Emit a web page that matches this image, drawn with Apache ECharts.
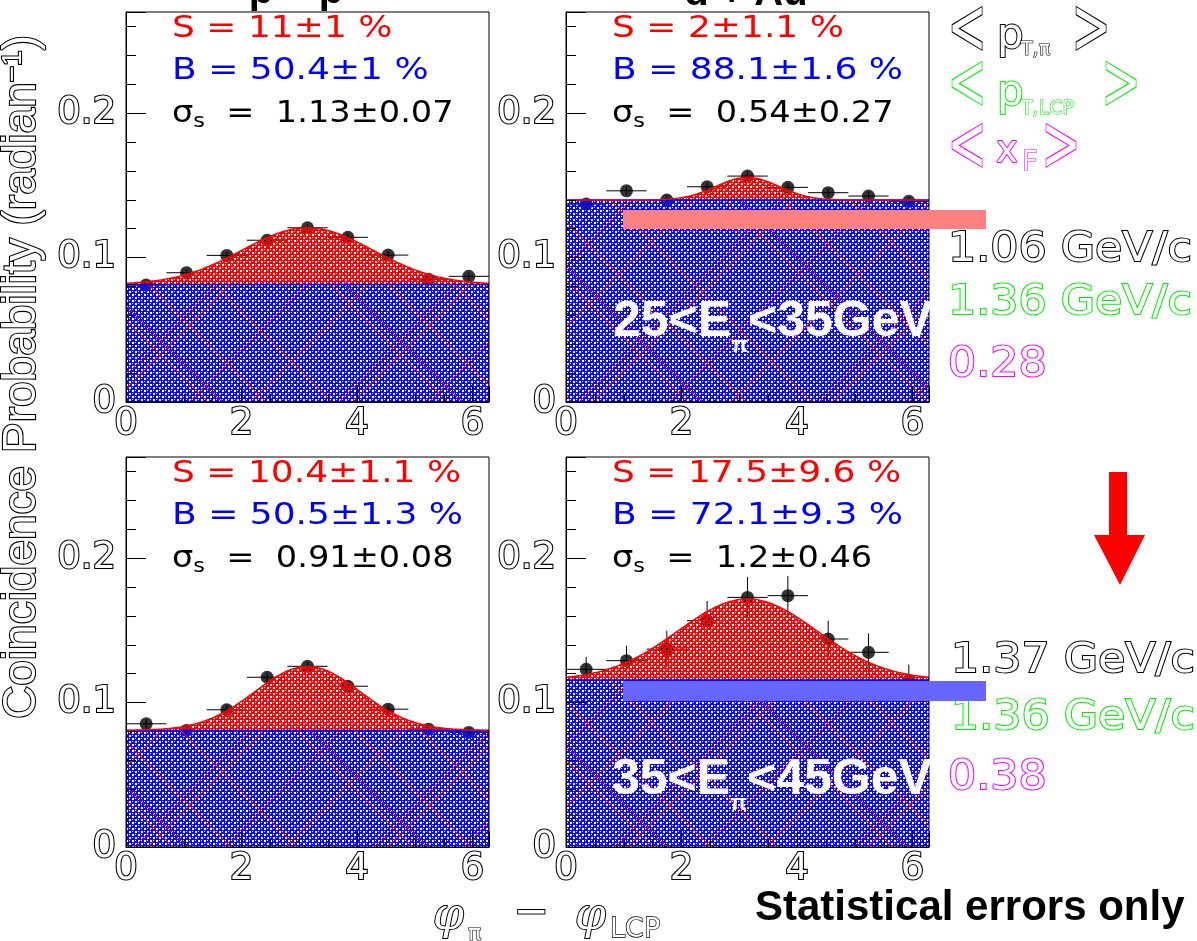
<!DOCTYPE html>
<html>
<head>
<meta charset="utf-8">
<script src="https://cdn.jsdelivr.net/npm/echarts@6/dist/echarts.min.js"></script>
<style>
html, body { margin: 0; padding: 0; background: #fff; }
#chart { width: 1197px; height: 941px; }
</style>
</head>
<body>
<div id="chart"></div>
<script>
// ---- data -----------------------------------------------------------------
const TWO_PI = 2 * Math.PI;
const binCenters = [0.349, 1.047, 1.745, 2.443, 3.142, 3.840, 4.538, 5.236, 5.934];
const binHalfWidth = 0.349;

// coincidence probability per bin (radian^-1) and its statistical error
const ppLowE      = [0.0810, 0.0895, 0.1015, 0.1120, 0.1206, 0.1140, 0.1017, 0.0850, 0.0870];
const ppLowEErr   = [0.0025, 0.0025, 0.0025, 0.0025, 0.0025, 0.0025, 0.0025, 0.0025, 0.0025];
const dAuLowE     = [0.1370, 0.1462, 0.1398, 0.1490, 0.1564, 0.1486, 0.1449, 0.1426, 0.1389];
const dAuLowEErr  = [0.0030, 0.0030, 0.0030, 0.0030, 0.0030, 0.0030, 0.0030, 0.0030, 0.0030];
const ppHighE     = [0.0853, 0.0807, 0.0950, 0.1175, 0.1251, 0.1113, 0.0954, 0.0816, 0.0793];
const ppHighEErr  = [0.0030, 0.0030, 0.0030, 0.0030, 0.0030, 0.0030, 0.0030, 0.0030, 0.0030];
const dAuHighE    = [0.1230, 0.1290, 0.1370, 0.1567, 0.1728, 0.1740, 0.1440, 0.1348, 0.1152];
const dAuHighEErr = [0.0087, 0.0104, 0.0127, 0.0136, 0.0142, 0.0135, 0.0127, 0.0130, 0.0110];

// fit: flat background + gaussian peak centred at pi (width = sigma_s)
const fitBase  = [0.0814, 0.1398, 0.0807, 0.1157];
const fitAmp   = [0.0392, 0.0157, 0.0443, 0.0560];
const fitSigma = [1.13, 0.54, 0.91, 1.2];

const sigText   = ['S = 11\u00b11 %', 'S = 2\u00b11.1 %', 'S = 10.4\u00b11.1 %', 'S = 17.5\u00b19.6 %'];
const bkgText   = ['B = 50.4\u00b11 %', 'B = 88.1\u00b11.6 %', 'B = 50.5\u00b11.3 %', 'B = 72.1\u00b19.3 %'];
const sigmaText = ['1.13\u00b10.07', '0.54\u00b10.27', '0.91\u00b10.08', '1.2\u00b10.46'];
const panelTitles = ['p + p', 'd + Au'];
const energyBins  = [['25', '35'], ['35', '45']];
const meanPtPi    = ['1.06 GeV/c', '1.37 GeV/c'];
const meanPtLcp   = ['1.36 GeV/c', '1.36 GeV/c'];
const meanXf      = ['0.28', '0.38'];

const xTickLabels = ['0', '2', '4', '6'];

const panelData = [ppLowE, dAuLowE, ppHighE, dAuHighE];
const panelErr  = [ppLowEErr, dAuLowEErr, ppHighEErr, dAuHighEErr];

// ---- layout ---------------------------------------------------------------
const PANEL_W = 363, PANEL_H = 390;
const panelPos = [[126, 12], [566, 12], [126, 457], [566, 457]];
const ROOT_FONT = '"DejaVu Sans"';

// ---- fill patterns --------------------------------------------------------
function makeTile(color, size, lineColor, slashOffsets, backOffsets) {
  const c = document.createElement('canvas');
  c.width = size; c.height = size;
  const g = c.getContext('2d');
  g.fillStyle = color;
  g.fillRect(0, 0, size, size);
  for (let y = 0; y < size; y += 6) {
    for (let x = 0; x < size; x += 6) {
      g.clearRect(x, y, 2, 2);
      g.clearRect(x + 3, y + 3, 2, 2);
      g.clearRect(x, y + 3, 1, 1);
      g.clearRect(x + 3, y, 1, 1);
    }
  }
  if (lineColor) {
    // crisp one-pixel diagonal hatching, wrapping around the tile
    g.fillStyle = lineColor;
    for (let y = 0; y < size; y++) {
      slashOffsets.forEach(k => g.fillRect(((k - y) % size + size) % size, y, 1, 1));
      backOffsets.forEach(k => g.fillRect(((y - k) % size + size) % size, y, 1, 1));
    }
  }
  return c;
}
const bluePattern = {
  image: makeTile('#0a0aff', 240, '#ff0000', [20, 34, 110, 172], [70, 136, 180, 194]),
  repeat: 'repeat'
};
const redPattern = { image: makeTile('#ff0000', 6), repeat: 'repeat' };

// ---- fit curves -----------------------------------------------------------
const fitX = [];
for (let i = 0; i <= 180; i++) fitX.push(TWO_PI * i / 180);
function fitValue(p, x) {
  const d = x - Math.PI;
  return fitBase[p] + fitAmp[p] * Math.exp(-d * d / (2 * fitSigma[p] * fitSigma[p]));
}

function renderErrorBar(params, api) {
  const x = api.value(0), y = api.value(1), e = api.value(2);
  const l = api.coord([x - binHalfWidth, y]);
  const r = api.coord([x + binHalfWidth, y]);
  const t = api.coord([x, y + e]);
  const b = api.coord([x, y - e]);
  const st = { stroke: '#000', lineWidth: 1 };
  return {
    type: 'group',
    children: [
      { type: 'line', shape: { x1: l[0], y1: l[1], x2: r[0], y2: r[1] }, style: st },
      { type: 'line', shape: { x1: t[0], y1: t[1], x2: b[0], y2: b[1] }, style: st }
    ]
  };
}

// background band (0 .. flat level) and signal band (flat level .. fit)
function fillRenderer(p) {
  return function (params, api) {
    const base = fitBase[p];
    const bgPts = [api.coord([0, 0]), api.coord([0, base]), api.coord([TWO_PI, base]), api.coord([TWO_PI, 0])];
    const sigPts = fitX.map(x => api.coord([x, fitValue(p, x)]));
    for (let i = fitX.length - 1; i >= 0; i--) sigPts.push(api.coord([fitX[i], base]));
    return {
      type: 'group',
      children: [
        { type: 'polygon', shape: { points: bgPts }, style: { fill: bluePattern } },
        { type: 'polygon', shape: { points: sigPts }, style: { fill: redPattern } }
      ]
    };
  };
}

const hollowLabel = {
  fontFamily: 'DejaVu Sans', fontSize: 37, color: '#fff',
  textBorderColor: '#000', textBorderWidth: 2.2
};

const grids = [], xAxes = [], yAxes = [], series = [];
panelPos.forEach((pos, p) => {
  grids.push({
    left: pos[0], top: pos[1], width: PANEL_W, height: PANEL_H,
    show: true, borderColor: '#000', borderWidth: 1, backgroundColor: 'transparent', z: 10
  });
  const xa = 2 * p, ya = 2 * p;
  xAxes.push({
    gridIndex: p, type: 'value', position: 'bottom', min: 0, max: TWO_PI, interval: 2, z: 10,
    axisLine: { show: true, onZero: false, lineStyle: { color: '#000', width: 1 } },
    axisTick: { show: true, inside: true, length: 16, lineStyle: { color: '#000', width: 1 } },
    axisLabel: Object.assign({ margin: 4, formatter: v => {
      const k = xTickLabels.indexOf(String(Math.round(v)));
      return (Math.abs(v - Math.round(v)) < 1e-6 && k >= 0) ? xTickLabels[k] : '';
    } }, hollowLabel),
    splitLine: { show: false }
  });
  xAxes.push({
    gridIndex: p, type: 'value', position: 'bottom', min: 0, max: TWO_PI, interval: 0.5, z: 10,
    axisLine: { show: false },
    axisTick: { show: true, inside: true, length: 8, lineStyle: { color: '#000', width: 1 } },
    axisLabel: { show: false }, splitLine: { show: false }
  });
  yAxes.push({
    gridIndex: p, type: 'value', position: 'left', min: 0, max: 0.27, interval: 0.1, z: 10,
    axisLine: { show: true, onZero: false, lineStyle: { color: '#000', width: 1 } },
    axisTick: { show: true, inside: true, length: 20, lineStyle: { color: '#000', width: 1 } },
    axisLabel: Object.assign({ margin: 10, formatter: v => (v > 0.25 ? '' : (v === 0 ? '0' : v.toFixed(1))) }, hollowLabel),
    splitLine: { show: false }
  });
  yAxes.push({
    gridIndex: p, type: 'value', position: 'left', min: 0, max: 0.27, interval: 0.02, z: 10,
    axisLine: { show: false },
    axisTick: { show: true, inside: true, length: 10, lineStyle: { color: '#000', width: 1 } },
    axisLabel: { show: false }, splitLine: { show: false }
  });

  const pts = binCenters.map((x, i) => [x, panelData[p][i], panelErr[p][i]]);
  series.push({
    type: 'custom', xAxisIndex: xa, yAxisIndex: ya, z: 2, silent: true,
    renderItem: renderErrorBar, encode: { x: 0, y: 1 }, data: pts
  });
  series.push({
    type: 'scatter', xAxisIndex: xa, yAxisIndex: ya, z: 2, silent: true,
    symbol: 'circle', symbolSize: 13, itemStyle: { color: '#000' },
    data: pts.map(d => [d[0], d[1]])
  });
  series.push({
    type: 'custom', xAxisIndex: xa, yAxisIndex: ya, z: 3, silent: true, clip: true,
    renderItem: fillRenderer(p), encode: { x: 0, y: 1 }, data: [[Math.PI, fitBase[p]]]
  });
  series.push({
    type: 'line', xAxisIndex: xa, yAxisIndex: ya, z: 4, silent: true,
    showSymbol: false, symbol: 'none',
    lineStyle: { color: '#0000ff', width: 1.5 },
    data: [[0, fitBase[p]], [TWO_PI, fitBase[p]]]
  });
  series.push({
    type: 'line', xAxisIndex: xa, yAxisIndex: ya, z: 4, silent: true,
    showSymbol: false, symbol: 'none',
    lineStyle: { color: '#ff0000', width: 1.5 },
    data: fitX.map(x => [x, fitValue(p, x)])
  });
});

// ---- text & annotations ---------------------------------------------------
function txt(x, y, text, o) {
  const style = {
    text: text, font: o.font, fill: o.fill,
    align: o.align || 'left', textAlign: o.align || 'left',
    verticalAlign: o.va || 'middle', textVerticalAlign: o.va || 'middle'
  };
  if (o.stroke) { style.stroke = o.stroke; style.lineWidth = o.lw || 2; }
  if (o.rich) style.rich = o.rich;
  return {
    type: 'text', x: x, y: y, z: o.z || 50, silent: true,
    scaleX: o.sx || 1, scaleY: o.sy || 1, rotation: o.rot || 0, style: style
  };
}
function hollow(color, extra) {
  return Object.assign({ fill: '#fff', stroke: color, lw: 2 }, extra);
}

const graphics = [];
// panel titles (run off the top edge)
graphics.push(txt(296, 12, panelTitles[0], { font: 'bold 40px "Liberation Sans"', fill: '#000', align: 'center', va: 'bottom' }));
graphics.push(txt(746, 13.5, panelTitles[1], { font: 'bold 40px "Liberation Sans"', fill: '#000', align: 'center', va: 'bottom' }));

// fit results in each panel
panelPos.forEach((pos, p) => {
  const x0 = pos[0] + 46;
  graphics.push(txt(x0, pos[1] + 17, sigText[p], { font: '30px ' + ROOT_FONT, fill: '#ff0000', sx: 1.2 }));
  graphics.push(txt(x0, pos[1] + 59, bkgText[p], { font: '30px ' + ROOT_FONT, fill: '#0000ff', sx: 1.2 }));
  graphics.push(txt(x0, pos[1] + 102, '{a|\u03c3}{b|s}{a|  =  ' + sigmaText[p] + '}', {
    font: '30px ' + ROOT_FONT, fill: '#000', sx: 1.12,
    rich: {
      a: { font: '30px ' + ROOT_FONT, lineHeight: 36 },
      b: { font: '20px ' + ROOT_FONT, lineHeight: 14, verticalAlign: 'bottom' }
    }
  }));
});

// energy ranges
[[613, 322], [612, 780]].forEach((pt, k) => {
  graphics.push(txt(pt[0], pt[1], '{a|' + energyBins[k][0] + '<E}{b|\u03c0}{a|<' + energyBins[k][1] + 'GeV}', {
    font: 'bold 50px "Liberation Sans"', fill: '#fff', z: 60,
    rich: {
      a: { font: 'bold 50px "Liberation Sans"', lineHeight: 70 },
      b: { font: 'bold 22px "Liberation Sans"', lineHeight: 22, verticalAlign: 'bottom' }
    }
  }));
});

// highlight bars at the background levels of the d+Au panels
graphics.push({ type: 'rect', z: 70, silent: true, shape: { x: 623, y: 210, width: 363, height: 19 }, style: { fill: '#ff8080' } });
graphics.push({ type: 'rect', z: 70, silent: true, shape: { x: 623, y: 681, width: 363, height: 20 }, style: { fill: '#6666ff' } });

// axis titles
graphics.push(txt(22, 377, 'Coincidence Probability (radian{s|\u22121})', hollow('#000', {
  font: '46px "Liberation Sans"', align: 'center', rot: Math.PI / 2, lw: 2.2,
  rich: { s: { font: '28px "Liberation Sans"', lineHeight: 28, verticalAlign: 'top' } }
})));
graphics.push(txt(433, 918, '\u03c6', hollow('#000', { font: 'italic 44px "DejaVu Serif"' })));
graphics.push(txt(468, 934, '\u03c0', hollow('#000', { font: '22px ' + ROOT_FONT, lw: 1.2 })));
graphics.push(txt(531, 914, '\u2212', hollow('#000', { font: '42px ' + ROOT_FONT, align: 'center' })));
graphics.push(txt(575, 918, '\u03c6', hollow('#000', { font: 'italic 44px "DejaVu Serif"' })));
graphics.push(txt(610, 930, 'LCP', hollow('#000', { font: '27px ' + ROOT_FONT, lw: 1.4 })));

// legend of mean kinematics
const angleFont = '78px ' + ROOT_FONT;
function bracketRow(y, color, body, bodyX, bodyFont, bodyDy, sub, subX, subFont, subDy, closeX) {
  graphics.push(txt(967, y, '<', hollow(color, { font: angleFont, align: 'center', sx: 0.6, lw: 2.4 })));
  graphics.push(txt(bodyX, y + bodyDy, body, hollow(color, { font: bodyFont })));
  graphics.push(txt(subX, y + subDy, sub, hollow(color, { font: subFont, lw: 1.2 })));
  graphics.push(txt(closeX, y, '>', hollow(color, { font: angleFont, align: 'center', sx: 0.6, lw: 2.4 })));
}
bracketRow(33, '#000', 'p', 997, '42px ' + ROOT_FONT, 4, 'T,\u03c0', 1021, '19px ' + ROOT_FONT, 17, 1091);
bracketRow(88, '#00ee00', 'p', 997, '42px ' + ROOT_FONT, 6, 'T,LCP', 1021, '19px ' + ROOT_FONT, 21, 1121);
bracketRow(150, '#ff00ff', 'x', 996, '37px ' + ROOT_FONT, 2, 'F', 1022, '27px ' + ROOT_FONT, 13, 1061);

[[250, 303, 365, 948], [661, 718, 778, 951]].forEach((r, k) => {
  graphics.push(txt(r[3], r[0], meanPtPi[k], hollow('#000', { font: '41px ' + ROOT_FONT, sx: 1.08 })));
  graphics.push(txt(r[3], r[1], meanPtLcp[k], hollow('#00ee00', { font: '41px ' + ROOT_FONT, sx: 1.08 })));
  graphics.push(txt(948, r[2], meanXf[k], hollow('#ff00ff', { font: '41px ' + ROOT_FONT, sx: 1.08 })));
});

// arrow between the two energy rows
graphics.push({
  type: 'polygon', z: 70, silent: true,
  shape: { points: [[1109, 472], [1127, 472], [1127, 535], [1145, 535], [1120, 585], [1094, 535], [1109, 535]] },
  style: { fill: '#ff0000' }
});

graphics.push(txt(755, 908, 'Statistical errors only', { font: 'bold 42px "Liberation Sans"', fill: '#000' }));

const chart = echarts.init(document.getElementById('chart'), null, { renderer: 'canvas' });
chart.setOption({
  animation: false,
  backgroundColor: '#fff',
  grid: grids,
  xAxis: xAxes,
  yAxis: yAxes,
  series: series,
  graphic: { elements: graphics }
});
</script>
</body>
</html>
